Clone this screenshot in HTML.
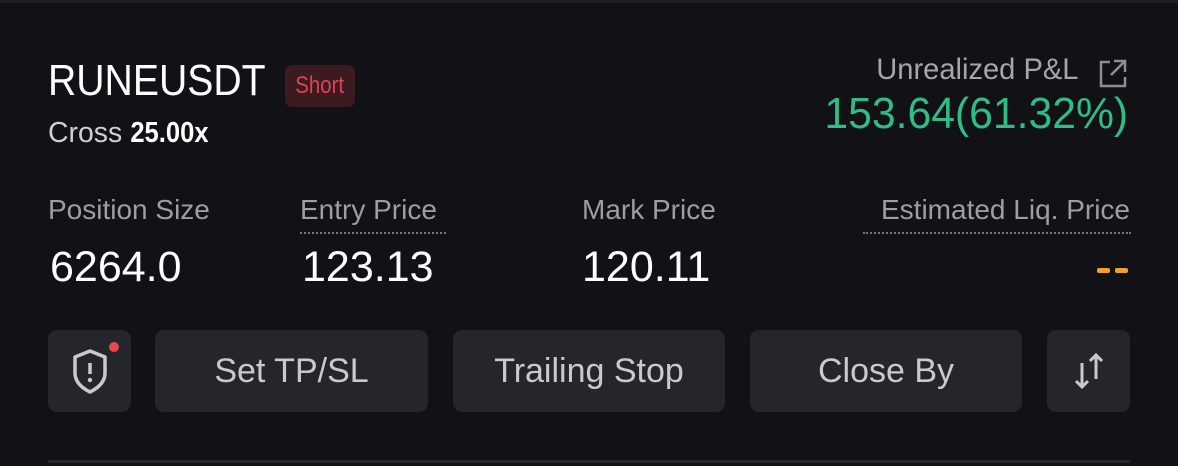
<!DOCTYPE html>
<html><head><meta charset="utf-8"><style>
html,body{margin:0;padding:0;background:#111116;width:1178px;height:466px;overflow:hidden;font-family:"Liberation Sans",sans-serif;}
.a{position:absolute;line-height:1;white-space:nowrap;}
.s{display:inline-block;transform-origin:left top;}
.r{transform-origin:right top;}
.btn{position:absolute;top:330px;height:82px;background:#24262c;border-radius:9px;display:flex;align-items:center;justify-content:center;color:#c9cacf;font-size:34px;}
.btn span{display:inline-block;transform:scaleX(1.0);}
.lbl{color:#9d9ea4;font-size:28px;}
.val{color:#fff;font-size:43px;}
.dot{position:absolute;height:0;border-top:2px dotted #777;}
</style></head><body>
<div style="position:absolute;left:0;top:0;width:1178px;height:3px;background:#1e1f25"></div>

<div class="a" style="left:48px;top:59px;font-size:44px;color:#fff"><span class="s" style="transform:scaleX(.89)">RUNEUSDT</span></div>
<div style="position:absolute;left:285px;top:65px;width:70px;height:42px;background:#3b1a20;border-radius:7px;display:flex;align-items:center;justify-content:center;color:#e0434f;font-size:24px"><span style="display:inline-block;transform:scaleX(.85)">Short</span></div>
<div class="a" style="left:48px;top:119px;font-size:29px;color:#cfd0d4"><span class="s" style="transform:scaleX(.98)">Cross <span style="color:#fff;font-weight:bold;display:inline-block;transform:scaleX(.9);transform-origin:left">25.00x</span></span></div>

<div class="a" style="right:100px;top:55px;font-size:30px;color:#a5a6ac"><span class="s r" style="transform:scaleX(.97)">Unrealized P&amp;L</span></div>
<svg style="position:absolute;left:1097px;top:57px" width="32" height="32" viewBox="0 0 32 32"><path d="M13 5H4v24h24v-9" fill="none" stroke="#8d8e94" stroke-width="2.5"/><path d="M17 4h11v11M28 4L14 18" fill="none" stroke="#8d8e94" stroke-width="2.5"/></svg>
<div class="a" style="right:50px;top:92px;font-size:44px;color:#2ebd85"><span class="s r" style="transform:scaleX(.97)">153.64(61.32%)</span></div>

<div class="a lbl" style="left:48px;top:196px"><span class="s" style="transform:scaleX(1.0)">Position Size</span></div>
<div class="a lbl" style="left:300px;top:196px"><span class="s" style="transform:scaleX(1.0)">Entry Price</span></div>
<div class="dot" style="left:300px;top:232px;width:146px"></div>
<div class="a lbl" style="left:582px;top:196px"><span class="s" style="transform:scaleX(1.0)">Mark Price</span></div>
<div class="a lbl" style="right:48px;top:196px"><span class="s r" style="transform:scaleX(1.0)">Estimated Liq. Price</span></div>
<div class="dot" style="left:863px;top:232px;width:268px"></div>

<div class="a val" style="left:50px;top:246px">6264.0</div>
<div class="a val" style="left:302px;top:246px">123.13</div>
<div class="a val" style="left:582px;top:246px">120.11</div>
<div style="position:absolute;left:1097px;top:268px;width:31px;height:5px">
<div style="position:absolute;left:0;top:0;width:13px;height:5px;background:#f0a030;border-radius:2px"></div>
<div style="position:absolute;left:18px;top:0;width:13px;height:5px;background:#f0a030;border-radius:2px"></div></div>

<div class="btn" style="left:48px;width:83px">
<svg width="50" height="60" viewBox="0 0 50 60"><path d="M25 10L40 16v16c0 9-7 15-15 19C17 47 10 41 10 32V16z" fill="none" stroke="#c9cacf" stroke-width="3.5" stroke-linejoin="round"/><line x1="25" y1="22" x2="25" y2="33" stroke="#c9cacf" stroke-width="3.5"/><circle cx="25" cy="39" r="2.2" fill="#c9cacf"/></svg>
<div style="position:absolute;left:61px;top:12px;width:10px;height:10px;border-radius:50%;background:#f0454f"></div></div>
<div class="btn" style="left:155px;width:273px"><span>Set TP/SL</span></div>
<div class="btn" style="left:453px;width:272px"><span>Trailing Stop</span></div>
<div class="btn" style="left:750px;width:272px"><span>Close By</span></div>
<div class="btn" style="left:1047px;width:83px">
<svg width="40" height="44" viewBox="0 0 40 44"><path d="M13 14v24M7 32l6 6 6-6" fill="none" stroke="#c9cacf" stroke-width="3"/><path d="M27 30V6M21 12l6-6 6 6" fill="none" stroke="#c9cacf" stroke-width="3"/></svg></div>

<div style="position:absolute;left:48px;top:460px;width:1082px;height:3px;background:#25262c"></div>
</body></html>
